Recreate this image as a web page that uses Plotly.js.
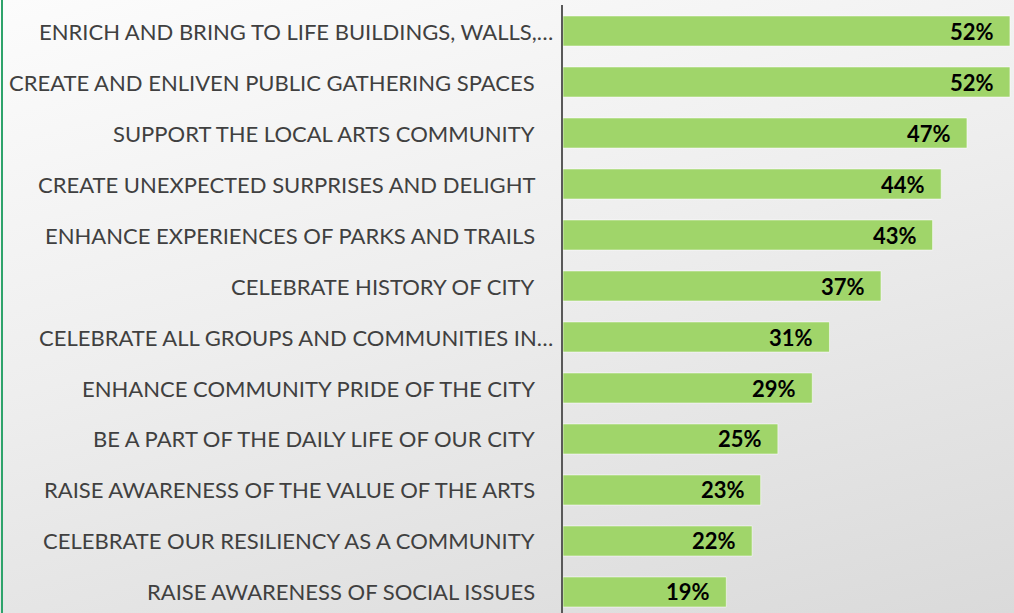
<!DOCTYPE html>
<html>
<head>
<meta charset="utf-8">
<script src="https://cdn.plot.ly/plotly-3.0.1.min.js"></script>
<style>
  html, body { margin:0; padding:0; }
  body { width:1014px; height:613px; overflow:hidden;
         background: linear-gradient(165deg, #fcfcfc 0%, #eeeeee 45%, #dadada 100%); position:relative; }
  #edge { position:absolute; left:1px; top:0; width:2px; height:613px; background:#2ea36b; }
  #chart { position:absolute; left:0; top:0; width:1014px; height:613px; }
</style>
</head>
<body>
<div id="edge"></div>
<div id="chart"></div>
<script>
const categories = [
  "ENRICH AND BRING TO LIFE BUILDINGS, WALLS,…",
  "CREATE AND ENLIVEN PUBLIC GATHERING SPACES",
  "SUPPORT THE LOCAL ARTS COMMUNITY",
  "CREATE UNEXPECTED SURPRISES AND DELIGHT",
  "ENHANCE EXPERIENCES OF PARKS AND TRAILS",
  "CELEBRATE HISTORY OF CITY",
  "CELEBRATE ALL GROUPS AND COMMUNITIES IN…",
  "ENHANCE COMMUNITY PRIDE OF THE CITY",
  "BE A PART OF THE DAILY LIFE OF OUR CITY",
  "RAISE AWARENESS OF THE VALUE OF THE ARTS",
  "CELEBRATE OUR RESILIENCY AS A COMMUNITY",
  "RAISE AWARENESS OF SOCIAL ISSUES"
];
const values = [52, 52, 47, 44, 43, 37, 31, 29, 25, 23, 22, 19];
const valueLabels = ["52%","52%","47%","44%","43%","37%","31%","29%","25%","23%","22%","19%"];

const labelFont = {family: "Lato, 'Open Sans', sans-serif", size: 22, color: "#404040"};
const valueFont = {family: "Lato, 'Open Sans', sans-serif", size: 22, color: "#000000", weight: "bold"};

const idx = categories.map((c, i) => i);

const trace = {
  type: "bar",
  orientation: "h",
  x: values,
  y: idx,
  width: 0.59,
  marker: {color: "#A0D56A", line: {color: "rgba(255,255,255,0.55)", width: 1}},
  hoverinfo: "none"
};

const annotations = [];
categories.forEach((c, i) => {
  const truncated = c.endsWith("…");
  annotations.push({
    x: 0, y: i, xref: "x", yref: "y", text: c, showarrow: false,
    xanchor: "right", yanchor: "middle", xshift: truncated ? -8 : -26,
    font: labelFont
  });
  annotations.push({
    x: values[i], y: i, xref: "x", yref: "y", text: "<b>" + valueLabels[i] + "</b>", showarrow: false,
    xanchor: "right", yanchor: "middle", xshift: -14,
    font: valueFont
  });
});

const layout = {
  width: 1014, height: 613,
  margin: {l: 563, r: 0, t: 5, b: 0},
  paper_bgcolor: "rgba(0,0,0,0)",
  plot_bgcolor: "rgba(0,0,0,0)",
  showlegend: false,
  xaxis: {range: [0, 52.47], visible: false, fixedrange: true},
  yaxis: {range: [11.412, -0.51], showticklabels: false, ticks: "", showgrid: false, zeroline: false,
          showline: true, linecolor: "#595959", linewidth: 2.5, fixedrange: true},
  annotations: annotations
};

Plotly.newPlot("chart", [trace], layout, {displayModeBar: false, staticPlot: true});
</script>
</body>
</html>
